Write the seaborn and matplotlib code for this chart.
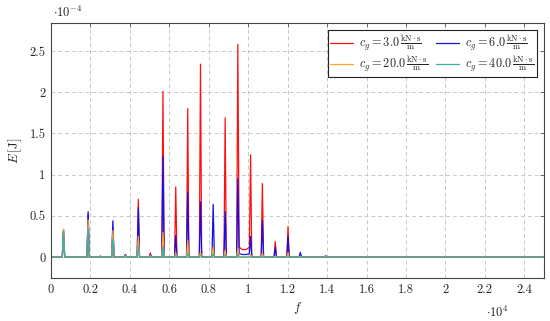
import numpy as np
import pandas as pd
import seaborn as sns
import matplotlib
matplotlib.use('Agg')
import matplotlib.pyplot as plt
from matplotlib.ticker import FuncFormatter, MultipleLocator

# resonance peaks (f in Hz, E in 1e-4 J)
peak_f = [633, 1883, 2505, 3138, 3770, 4428, 5035, 5678, 6326, 6933,
          7581, 8224, 8831, 9474, 10121, 10719, 11372, 12019, 12642, 13927]
peak_cg3 = [0.33, 0.52, 0.01, 0.33, 0.03, 0.70, 0.05, 2.01, 0.85, 1.80,
            2.34, 0.12, 1.69, 2.58, 1.24, 0.89, 0.19, 0.37, 0.03, 0.005]
peak_cg6 = [0.33, 0.55, 0.01, 0.44, 0.03, 0.60, 0.03, 1.22, 0.26, 0.78,
            0.67, 0.64, 0.55, 0.95, 0.25, 0.44, 0.12, 0.25, 0.055, 0.015]
peak_cg20 = [0.34, 0.45, 0.005, 0.32, 0.02, 0.25, 0.02, 0.30, 0.05, 0.20,
             0.06, 0.12, 0.08, 0.10, 0.03, 0.05, 0.01, 0.05, 0.01, 0.005]
peak_cg40 = [0.31, 0.35, 0.0, 0.22, 0.01, 0.12, 0.01, 0.12, 0.02, 0.04,
             0.02, 0.03, 0.02, 0.03, 0.01, 0.01, 0.0, 0.01, 0.0, 0.0]

# raised floor between the 0.95e4 and 1.01e4 peaks
plateau_f = [9540, 9700, 9900, 10060]
plateau_cg3 = [0.12, 0.09, 0.09, 0.12]
plateau_cg6 = [0.04, 0.03, 0.03, 0.04]
plateau_cg20 = [0.0, 0.0, 0.0, 0.0]
plateau_cg40 = [0.0, 0.0, 0.0, 0.0]

f_end = [0, 25000]

unit = r'\,\frac{\mathrm{kN}\cdot\mathrm{s}}{\mathrm{m}}'
labels = [r'$c_g = 3.0' + unit + '$',
          r'$c_g = 6.0' + unit + '$',
          r'$c_g = 20.0' + unit + '$',
          r'$c_g = 40.0' + unit + '$']
colors = ['#ff1010', '#1010e8', '#ffa428', '#38b2a4']

half_w = 60  # Hz, foot of each spike


def build(label, peaks, plateau):
    f, e = list(f_end), [0.0, 0.0]
    for pf, h in zip(peak_f, peaks):
        f.append(pf)
        e.append(h)
        for side in (pf - half_w, pf + half_w):
            if not (9500 < side < 10100):
                f.append(side)
                e.append(0.0)
    f += plateau_f
    e += plateau
    d = pd.DataFrame({'f': f, 'E': np.array(e) * 1e-4})
    d['series'] = label
    return d.sort_values('f')


df = pd.concat([
    build(labels[0], peak_cg3, plateau_cg3),
    build(labels[1], peak_cg6, plateau_cg6),
    build(labels[2], peak_cg20, plateau_cg20),
    build(labels[3], peak_cg40, plateau_cg40),
])

sns.set_theme(style='white')
plt.rcParams.update({
    'font.family': 'serif',
    'font.serif': ['cmr10'],
    'mathtext.fontset': 'cm',
    'axes.formatter.use_mathtext': True,
    'axes.unicode_minus': False,
})

fig = plt.figure(figsize=(5.5, 3.21), dpi=100)
ax = fig.add_axes([51 / 550, 1 - 278 / 321, 493 / 550, 255 / 321])

sns.lineplot(data=df, x='f', y='E', hue='series', hue_order=labels,
             palette=colors, estimator=None, sort=False, lw=0.9,
             legend=False, ax=ax)

ax.set_xlim(0, 25000)
ax.set_ylim(-0.255e-4, 2.84e-4)
ax.xaxis.set_major_locator(MultipleLocator(2000))
ax.yaxis.set_major_locator(MultipleLocator(0.5e-4))
ax.xaxis.set_major_formatter(FuncFormatter(lambda v, _: f'{v / 1e4:g}'))
ax.yaxis.set_major_formatter(FuncFormatter(lambda v, _: f'{v / 1e-4:g}'))
ax.tick_params(direction='in', length=3, width=0.6, color='#555555',
               top=True, right=True, labelsize=9, pad=4)
ax.grid(True, color='#c8c8c8', lw=0.7, ls=(0, (4, 3)))
for s in ax.spines.values():
    s.set_color('#444444')
    s.set_linewidth(0.8)

ax.set_xlabel(r'$f$', fontsize=9.5, labelpad=3)
ax.set_ylabel(r'$E\,[\mathrm{J}]$', fontsize=9.5, labelpad=4)
fig.text(53 / 550, 1 - 12 / 321, r'$\cdot 10^{-4}$', fontsize=9,
         ha='left', va='center')
fig.text(509 / 550, 1 - 312 / 321, r'$\cdot 10^{4}$', fontsize=9,
         ha='right', va='center')

h = ax.lines[:4]
order = [0, 2, 1, 3]
leg = ax.legend([h[i] for i in order], [labels[i] for i in order],
                loc='upper right', ncol=2, fontsize=8.8, frameon=True,
                fancybox=False, edgecolor='#222222', framealpha=1,
                handlelength=1.9, columnspacing=0.6, handletextpad=0.5,
                borderaxespad=0.6, labelspacing=0.05, borderpad=0.2)
leg.get_frame().set_linewidth(0.8)

fig.savefig('out.png', dpi=100)
